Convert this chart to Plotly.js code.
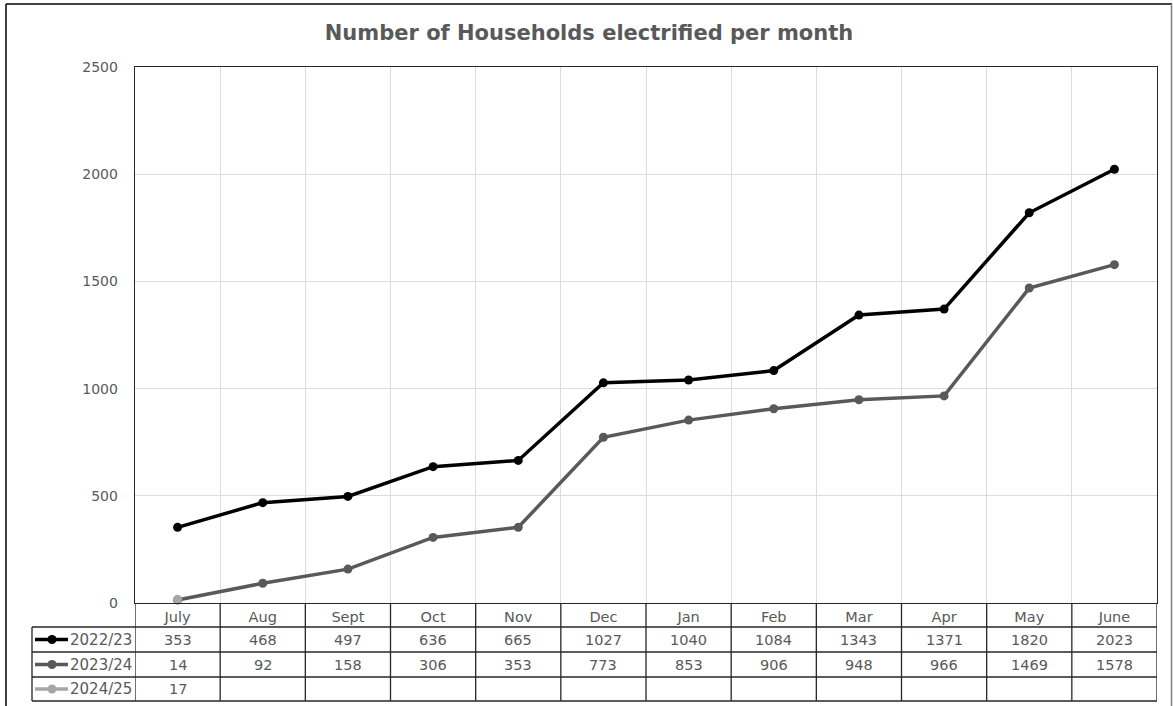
<!DOCTYPE html>
<html>
<head>
<meta charset="utf-8">
<script src="https://cdn.plot.ly/plotly-3.0.1.min.js"></script>
<style>
html,body{margin:0;padding:0;background:#fff;}
#chart{width:1173px;height:706px;}
</style>
</head>
<body>
<div id="chart"></div>
<script>
// ---- data ----
var months = ["July","Aug","Sept","Oct","Nov","Dec","Jan","Feb","Mar","Apr","May","June"];
var seriesNames = ["2022/23","2023/24","2024/25"];
var s2022 = [353,468,497,636,665,1027,1040,1084,1343,1371,1820,2023];
var s2023 = [14,92,158,306,353,773,853,906,948,966,1469,1578];
var s2024 = [17];
var yTicks = [0,500,1000,1500,2000,2500];

// ---- geometry (pixels) ----
var W = 1173, H = 706;
var PL = 135, PR = 1157, PT = 67, PB = 603;
var PW = PR - PL, PH = PB - PT;
function px(x){ return (x - PL) / PW; }
function py(y){ return (PB - y) / PH; }

var colors = ["#000000","#595959","#a6a6a6"];
var FONT = "DejaVu Sans";
var textColor = "#595959";
var tableLine = "#262626";

var seriesData = [s2022, s2023, s2024];
var traces = seriesData.map(function(vals, i){
  return {
    x: months.slice(0, vals.length),
    y: vals,
    type: "scatter",
    mode: "lines+markers",
    name: seriesNames[i],
    line: {color: colors[i], width: 3.5},
    marker: {color: colors[i], size: 9, symbol: "circle"},
    cliponaxis: false,
    showlegend: false
  };
});

// table rows
var rowTops = [603, 627, 652, 677, 701];
var shapes = [];
var annotations = [];

// horizontal table lines
for (var r = 1; r < rowTops.length; r++) {
  shapes.push({type:"line", xref:"paper", yref:"paper",
    x0: px(32), x1: px(PR), y0: py(rowTops[r]), y1: py(rowTops[r]),
    line:{color: tableLine, width: 1.3}});
}
// vertical table lines at category boundaries
for (var c = 0; c <= months.length; c++) {
  shapes.push({type:"line", xref:"x", yref:"paper",
    x0: c - 0.5, x1: c - 0.5, y0: py(rowTops[0]), y1: py(rowTops[4]),
    line:{color: tableLine, width: 1.3}});
}
// legend column left border
shapes.push({type:"line", xref:"paper", yref:"paper",
  x0: px(32), x1: px(32), y0: py(rowTops[1]), y1: py(rowTops[4]),
  line:{color: tableLine, width: 1.3}});

// legend keys + labels
for (var s = 0; s < seriesNames.length; s++) {
  var yc = (rowTops[s+1] + rowTops[s+2]) / 2;
  shapes.push({type:"line", xref:"paper", yref:"paper",
    x0: px(35), x1: px(68), y0: py(yc), y1: py(yc),
    line:{color: colors[s], width: 3.5}});
  shapes.push({type:"circle", xref:"paper", yref:"paper",
    x0: px(47.5), x1: px(56.5), y0: py(yc + 4.5), y1: py(yc - 4.5),
    fillcolor: colors[s], line:{color: colors[s], width: 0}});
  annotations.push({xref:"paper", yref:"paper", x: px(68), y: py(yc),
    xanchor:"left", yanchor:"middle", showarrow:false, text: seriesNames[s],
    font:{family: FONT, size: 15, color: textColor}});
  var vals = seriesData[s];
  for (var k = 0; k < vals.length; k++) {
    annotations.push({xref:"x", yref:"paper", x: months[k], y: py(yc),
      xanchor:"center", yanchor:"middle", showarrow:false, text: String(vals[k]),
      font:{family: FONT, size: 14.5, color: textColor}});
  }
}

// outer frame
shapes.push({type:"line", xref:"paper", yref:"paper", x0: px(6), x1: px(1172), y0: py(4), y1: py(4), line:{color:"#000", width:1.5}});
shapes.push({type:"line", xref:"paper", yref:"paper", x0: px(6), x1: px(6), y0: py(4), y1: py(720), line:{color:"#000", width:1.5}});
shapes.push({type:"line", xref:"paper", yref:"paper", x0: px(1171.5), x1: px(1171.5), y0: py(4), y1: py(720), line:{color:"#7f7f7f", width:1.5}});

var layout = {
  width: W, height: H,
  margin: {l: PL, r: W - PR, t: PT, b: H - PB, pad: 0},
  paper_bgcolor: "#fff", plot_bgcolor: "#fff",
  title: {text: "Number of Households electrified per month",
    font: {family: FONT, size: 21, color: textColor, weight: "bold"},
    x: 589/W, xanchor: "center", y: 1 - 33/H, yanchor: "middle"},
  xaxis: {
    type: "category", categoryarray: months, range: [-0.5, months.length - 0.5],
    tickson: "boundaries", ticks: "", showgrid: true, gridcolor: "#dcdcdc", gridwidth: 1,
    showline: true, linecolor: tableLine, linewidth: 1.3, mirror: true,
    tickfont: {family: FONT, size: 14.5, color: textColor},
    ticklabelstandoff: 0, fixedrange: true, zeroline: false
  },
  yaxis: {
    range: [0, 2500], tickvals: yTicks, ticktext: yTicks.map(String),
    showgrid: true, gridcolor: "#dcdcdc", gridwidth: 1,
    showline: true, linecolor: tableLine, linewidth: 1.3, mirror: true,
    ticks: "", zeroline: false,
    tickfont: {family: FONT, size: 14, color: textColor},
    ticklabelstandoff: 13, fixedrange: true
  },
  shapes: shapes,
  annotations: annotations
};

Plotly.newPlot("chart", traces, layout, {displayModeBar: false, staticPlot: true});
</script>
</body>
</html>
